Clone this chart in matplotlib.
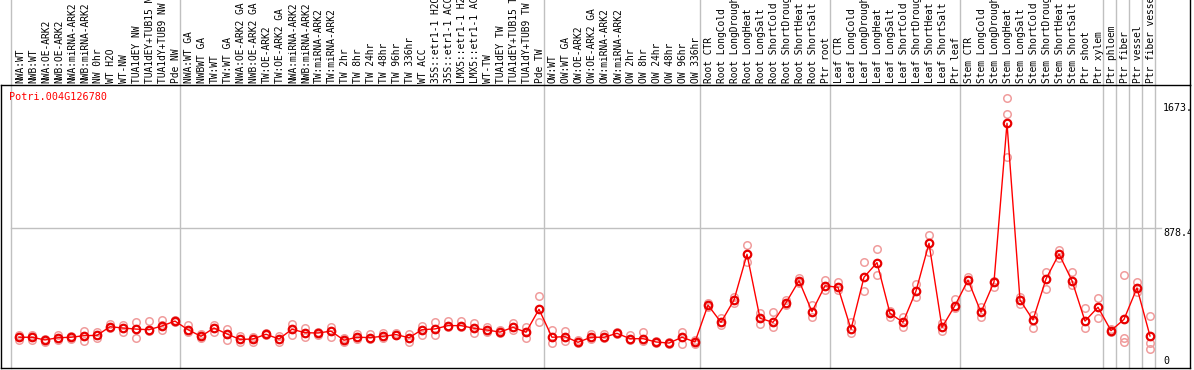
import matplotlib
matplotlib.use("Agg")
import matplotlib.pyplot as plt
from matplotlib.lines import Line2D
import numpy as np

labels = [
    "NWA:WT", "NWB:WT", "NWA:OE-ARK2", "NWB:OE-ARK2", "NWA:miRNA-ARK2", "NWB:miRNA-ARK2",
    "NW 0hr", "WT H2O", "WT-NW", "TUA1dEY NW", "TUA1dEY+TUB15 NW", "TUA1dY+TUB9 NW", "Pde NW",
    "NWA:WT GA", "NWBWT GA", "TW:WT", "TW:WT GA", "NWA:OE-ARK2 GA", "NWB:OE-ARK2 GA",
    "TW:OE-ARK2", "TW:OE-ARK2 GA", "NWA:miRNA-ARK2", "NWB:miRNA-ARK2", "TW:miRNA-ARK2",
    "TW:miRNA-ARK2", "TW 2hr", "TW 8hr", "TW 24hr", "TW 48hr", "TW 96hr", "TW 336hr", "WT ACC",
    "35S::etr1-1 H2O", "35S::etr1-1 ACC", "LMX5::etr1-1 H2O", "LMX5::etr1-1 ACC", "WT-TW",
    "TUA1dEY TW", "TUA1dEY+TUB15 TW", "TUA1dY+TUB9 TW", "Pde TW",
    "OW:WT", "OW:WT GA", "OW:OE-ARK2", "OW:OE-ARK2 GA", "OW:miRNA-ARK2", "OW:miRNA-ARK2",
    "OW 2hr", "OW 8hr", "OW 24hr", "OW 48hr", "OW 96hr", "OW 336hr",
    "Root CTR", "Root LongCold", "Root LongDrought", "Root LongHeat", "Root LongSalt",
    "Root ShortCold", "Root ShortDrought", "Root ShortHeat", "Root ShortSalt", "Ptr root",
    "Leaf CTR", "Leaf LongCold", "Leaf LongDrought", "Leaf LongHeat", "Leaf LongSalt",
    "Leaf ShortCold", "Leaf ShortDrought", "Leaf ShortHeat", "Leaf ShortSalt", "Ptr leaf",
    "Stem CTR", "Stem LongCold", "Stem LongDrought", "Stem LongHeat", "Stem LongSalt",
    "Stem ShortCold", "Stem ShortDrought", "Stem ShortHeat", "Stem ShortSalt", "Ptr shoot",
    "Ptr xylem", "Ptr phloem", "Ptr fiber", "Ptr vessel", "Ptr fiber vessel",
]

means = [
    183, 183, 166, 180, 183, 193, 195, 250, 242, 235, 231, 255, 286,
    231, 189, 242, 204, 169, 172, 202, 172, 234, 212, 210, 222, 164, 183, 181, 189, 200,
    180, 231, 236, 257, 257, 240, 229, 216, 246, 215, 361,
    183, 187, 151, 183, 183, 208, 174, 174, 153, 146, 183, 153,
    388, 278, 420, 711, 304, 278, 403, 543, 346, 511,
    501, 234, 565, 658, 335, 278, 477, 781, 246, 385,
    547, 342, 535, 1545, 420, 293, 554, 713, 543, 286, 374,
    225, 297, 497, 191,
]

rep_hi = [
    198, 198, 172, 195, 193, 225, 214, 265, 261, 282, 288, 293, 292,
    261, 202, 261, 235, 193, 186, 208, 193, 265, 240, 218, 250, 176, 202, 202, 208, 208,
    202, 257, 278, 286, 286, 272, 250, 229, 276, 250, 446,
    229, 225, 166, 204, 204, 218, 197, 215, 161, 155, 218, 166,
    399, 304, 441, 770, 335, 346, 420, 562, 388, 547,
    533, 282, 664, 745, 350, 314, 522, 834, 272, 426,
    568, 377, 543, 1703, 441, 325, 600, 738, 596, 367, 431,
    234, 579, 533, 318,
]

rep_lo = [
    168, 168, 150, 165, 173, 161, 176, 240, 218, 176, 225, 229, 280,
    218, 176, 218, 166, 151, 155, 197, 155, 197, 186, 197, 186, 151, 172, 172, 176, 195,
    151, 197, 197, 250, 250, 212, 218, 208, 229, 176, 278,
    145, 161, 145, 170, 176, 204, 166, 161, 145, 140, 140, 140,
    377, 261, 399, 660, 265, 246, 388, 526, 314, 484,
    484, 208, 479, 579, 314, 250, 441, 728, 223, 367,
    501, 310, 505, 1332, 393, 244, 490, 685, 516, 240, 304,
    215, 155, 473, 106,
]

rep_extra_idx = [9, 11, 39, 76, 85, 87]
rep_extra_val = [235, 261, 214, 1602, 176, 148]

group_starts = [0, 13, 41, 53, 63, 73, 84, 85, 86, 87, 88]
gene = "Potri.004G126780"
ref_values = [1673, 878.4, 0]
ref_texts = ["1673.", "878.4", "0"]

W, H = 1194, 370
fig = plt.figure(figsize=(W / 100, H / 100), dpi=100)
ax = fig.add_axes([1 / W, 2 / H, 1189 / W, 283 / H])
x = np.arange(len(labels))
ax.set_xlim(-18 / 13, 1171 / 13)
ax.set_ylim(-12.7, 1788.6)

gray = "#c0c0c0"
for k in group_starts:
    ax.axvline(k - 8 / 13, ymin=0, ymax=368 / 283, color=gray, lw=1, clip_on=False, zorder=1)
ax.plot([-8 / 13, 87.85], [ref_values[1], ref_values[1]], color=gray, lw=1, zorder=1)

pink = "#f09c9c"
ax.plot(x, rep_hi, "o", ms=5.4, mfc="none", mec=pink, mew=1.1, zorder=2)
ax.plot(x, rep_lo, "o", ms=5.4, mfc="none", mec=pink, mew=1.1, zorder=2)
ax.plot(rep_extra_idx, rep_extra_val, "o", ms=5.4, mfc="none", mec=pink, mew=1.1, zorder=2)
ax.plot(x, means, "-", color="red", lw=1, zorder=3)
ax.plot(x, means, "o", ms=5.4, mfc="none", mec="#e80000", mew=1.6, zorder=4)

ax.set_xticks(x + 1 / 13)
ax.set_xticklabels(labels, rotation=90, fontsize=6.9, family="DejaVu Sans Mono")
ax.tick_params(axis="x", top=True, bottom=False, labeltop=True, labelbottom=False,
               length=0, pad=1.4)
ax.set_yticks([])
for s in ax.spines.values():
    s.set_color("black")
    s.set_linewidth(1)

fig.add_artist(Line2D([1190 / W, 1190 / W], [285 / H, 1], color="black", lw=1))

for v, t in zip(ref_values, ref_texts):
    ax.text(88.0, v, t, fontsize=7.2, family="DejaVu Sans Mono", ha="left",
            va="bottom" if v == 0 else "top", color="black", clip_on=True)

fig.text(9 / W, 1 - 97 / H, gene, color="red", fontsize=7.25,
         family="DejaVu Sans Mono", ha="left", va="center")

fig.savefig("out.png", dpi=100)
